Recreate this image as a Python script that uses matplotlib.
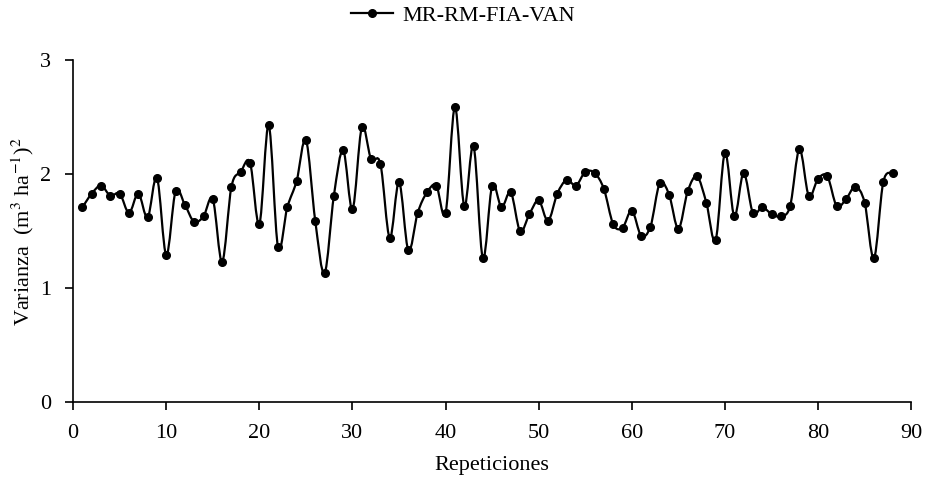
import numpy as np
import matplotlib
matplotlib.use("Agg")
import matplotlib.pyplot as plt
from matplotlib.path import Path
from matplotlib.patches import PathPatch
from matplotlib.lines import Line2D

plt.rcParams['font.family'] = ['Liberation Serif', 'DejaVu Serif']
plt.rcParams['mathtext.fontset'] = 'stix'

# Données
repeticiones = np.arange(1, 89)
varianza = [
    1.71, 1.83, 1.90, 1.81, 1.83, 1.66, 1.83, 1.62, 1.97, 1.29,
    1.85, 1.73, 1.58, 1.63, 1.78, 1.23, 1.89, 2.02, 2.10, 1.56,
    2.43, 1.36, 1.71, 1.94, 2.30, 1.59, 1.13, 1.81, 2.21, 1.69,
    2.41, 2.13, 2.09, 1.44, 1.93, 1.33, 1.66, 1.84, 1.90, 1.66,
    2.59, 1.72, 2.25, 1.26, 1.90, 1.71, 1.84, 1.50, 1.65, 1.77,
    1.59, 1.83, 1.95, 1.90, 2.02, 2.01, 1.87, 1.56, 1.53, 1.68,
    1.46, 1.54, 1.92, 1.82, 1.52, 1.85, 1.98, 1.75, 1.42, 2.19,
    1.63, 2.01, 1.66, 1.71, 1.65, 1.63, 1.72, 2.22, 1.81, 1.96,
    1.98, 1.72, 1.78, 1.89, 1.75, 1.26, 1.93, 2.01,
]
serie = "MR-RM-FIA-VAN"


def smooth_path(x, y):
    """Courbe lissée (Catmull-Rom en Bézier cubiques) passant par les points"""
    pts = np.column_stack([x, y]).astype(float)
    ext = np.vstack([pts[0], pts, pts[-1]])
    verts = [pts[0]]
    codes = [Path.MOVETO]
    for i in range(1, len(ext) - 2):
        p0, p1, p2, p3 = ext[i - 1], ext[i], ext[i + 1], ext[i + 2]
        verts += [p1 + (p2 - p0) / 6, p2 - (p3 - p1) / 6, p2]
        codes += [Path.CURVE4] * 3
    return Path(verts, codes)


fig = plt.figure(figsize=(9.26, 4.78), dpi=100)
ax = fig.add_axes([0.079, 0.159, 0.905, 0.715])

ax.add_patch(PathPatch(smooth_path(repeticiones, varianza), facecolor='none',
                       edgecolor='black', linewidth=1.6))
ax.plot(repeticiones, varianza, linestyle='none', color='black',
        marker='o', markersize=5.5)

ax.set_xlim(0, 90)
ax.set_ylim(0, 3)
ax.set_xticks(np.arange(0, 91, 10))
ax.set_yticks([0, 1, 2, 3])

for side in ['top', 'right']:
    ax.spines[side].set_visible(False)
for side in ['left', 'bottom']:
    ax.spines[side].set_linewidth(1.2)
ax.tick_params(direction='out', length=6, width=1.2, labelsize=16)
ax.tick_params(axis='x', pad=10)
ax.tick_params(axis='y', pad=10)

ax.set_xlabel('Repeticiones', fontsize=16, labelpad=9)
ax.set_ylabel(r'Varianza  (m$^{3}$ ha$^{-1}$)$^{2}$', fontsize=16, labelpad=3)

handle = Line2D([], [], color='black', linewidth=1.6, marker='o', markersize=5.5)
fig.legend([handle], [serie], loc='upper center', bbox_to_anchor=(0.5, 1.03),
           frameon=False, fontsize=16, handlelength=1.9, handletextpad=0.4)

fig.savefig('out.png', dpi=100)
